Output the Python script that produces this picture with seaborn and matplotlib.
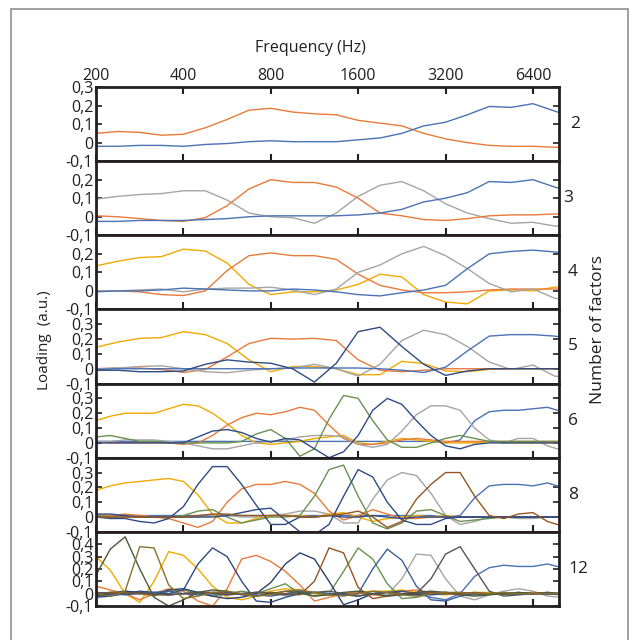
import matplotlib
matplotlib.use('Agg')
import matplotlib.pyplot as plt
from matplotlib.patches import Rectangle
from matplotlib.ticker import NullLocator
import pandas as pd
import seaborn as sns

# --- sampling grids (Hz) ---
freq_q = [200, 238, 283, 336, 400, 476, 566, 673, 800, 951, 1131, 1345, 1600,
          1903, 2263, 2691, 3200, 3805, 4525, 5382, 6400, 7611, 9051]
freq_s = [200, 224, 252, 283, 317, 356, 400, 449, 504, 566, 635, 713, 800, 898,
          1008, 1131, 1270, 1425, 1600, 1796, 2016, 2263, 2540, 2851, 3200,
          3592, 4032, 4525, 5080, 5702, 6400, 7184, 8063]

freq_ticks = [200, 400, 800, 1600, 3200, 6400]
factor_counts = ['2', '3', '4', '5', '6', '8', '12']

# --- 2 factors ---
f2_orange = [0.05, 0.06, 0.055, 0.04, 0.045, 0.08, 0.125, 0.175, 0.185, 0.165, 0.155, 0.15,
             0.12, 0.105, 0.09, 0.05, 0.02, 0.0, -0.015, -0.02, -0.02, -0.025, -0.025]
f2_blue = [-0.02, -0.02, -0.015, -0.015, -0.02, -0.01, -0.005, 0.005, 0.01, 0.005, 0.005, 0.005,
           0.015, 0.025, 0.05, 0.09, 0.11, 0.15, 0.195, 0.19, 0.21, 0.17, 0.13]

# --- 3 factors ---
f3_gray = [0.095, 0.11, 0.12, 0.125, 0.14, 0.14, 0.09, 0.02, 0.0, -0.005, -0.035, 0.02,
           0.11, 0.17, 0.19, 0.14, 0.07, 0.02, -0.01, -0.035, -0.03, -0.05, -0.05]
f3_orange = [0.005, 0.0, -0.01, -0.02, -0.025, -0.005, 0.06, 0.15, 0.2, 0.185, 0.185, 0.16,
             0.1, 0.02, 0.005, -0.015, -0.02, -0.01, 0.005, 0.01, 0.01, 0.015, 0.015]
f3_blue = [-0.025, -0.025, -0.02, -0.02, -0.02, -0.015, -0.01, 0.0, 0.005, 0.005, 0.005, 0.005,
           0.01, 0.02, 0.04, 0.08, 0.1, 0.13, 0.19, 0.185, 0.2, 0.16, 0.13]

# --- 4 factors ---
f4_gold = [0.135, 0.16, 0.18, 0.185, 0.225, 0.215, 0.15, 0.035, -0.02, -0.005, -0.005, 0.005,
           0.035, 0.09, 0.075, -0.02, -0.06, -0.07, 0.0, 0.005, 0.0, 0.02, 0.025]
f4_orange = [0.0, 0.0, -0.005, -0.02, -0.025, 0.0, 0.11, 0.19, 0.205, 0.19, 0.19, 0.17,
             0.09, 0.03, 0.005, -0.01, -0.01, -0.005, 0.005, 0.01, 0.01, 0.01, 0.01]
f4_gray = [0.0, 0.0, 0.005, 0.01, -0.005, 0.01, 0.015, 0.015, 0.02, 0.005, -0.02, 0.01,
           0.1, 0.14, 0.2, 0.24, 0.19, 0.12, 0.04, -0.005, 0.01, -0.04, -0.055]
f4_blue = [-0.005, 0.0, 0.0, 0.005, 0.015, 0.01, 0.005, 0.0, 0.0, 0.01, 0.005, -0.005,
           -0.02, -0.027, -0.01, 0.005, 0.03, 0.12, 0.2, 0.213, 0.22, 0.21, 0.2]

# --- 5 factors ---
f5_gold = [0.145, 0.18, 0.205, 0.21, 0.25, 0.23, 0.17, 0.06, -0.02, 0.015, 0.015, 0.0,
           -0.04, -0.04, 0.05, 0.035, -0.015, -0.02, -0.005, 0.0, 0.0, 0.0, 0.0]
f5_orange = [0.0, 0.005, 0.005, -0.005, -0.025, -0.005, 0.08, 0.17, 0.205, 0.2, 0.205, 0.19,
             0.06, -0.01, -0.02, -0.01, 0.0, 0.0, 0.0, 0.0, 0.0, 0.0, 0.0]
f5_navy = [-0.01, -0.01, -0.02, -0.02, -0.015, 0.03, 0.06, 0.045, 0.037, 0.0, -0.09, 0.037,
           0.25, 0.28, 0.15, 0.03, -0.045, -0.015, 0.0, 0.0, 0.0, 0.0, 0.0]
f5_gray = [0.0, 0.005, 0.015, 0.02, 0.0, -0.02, -0.027, -0.01, 0.0, 0.005, 0.03, 0.0,
           -0.05, 0.03, 0.19, 0.26, 0.23, 0.15, 0.045, -0.005, 0.025, -0.05, -0.06]
f5_blue = [-0.005, 0.0, 0.0, 0.0, 0.0, 0.0, 0.0, 0.0, 0.0, 0.005, 0.005, 0.005,
           0.005, 0.0, -0.01, -0.025, 0.01, 0.12, 0.22, 0.23, 0.23, 0.22, 0.2]

# --- 6 factors ---
f6_gold = [0.15, 0.18, 0.20, 0.20, 0.20, 0.23, 0.26, 0.25, 0.20, 0.13, 0.05, 0.00, -0.01,
           0.00, 0.01, 0.03, 0.04, 0.05, 0.00, -0.01, 0.01, 0.03, 0.02, 0.01, 0.00, 0.00,
           0.00, 0.01, 0.00, 0.00, 0.00, 0.00, 0.00]
f6_orange = [0.01, 0.00, 0.00, 0.00, 0.00, 0.00, -0.01, 0.00, 0.05, 0.12, 0.17, 0.20, 0.19,
             0.21, 0.24, 0.22, 0.12, 0.03, -0.01, -0.01, 0.00, 0.02, 0.03, 0.02, 0.01, 0.01,
             0.01, 0.01, 0.01, 0.01, 0.01, 0.01, 0.01]
f6_green = [0.04, 0.05, 0.03, 0.01, 0.01, 0.00, 0.00, 0.00, 0.00, 0.00, 0.01, 0.06, 0.09,
            0.03, -0.09, -0.04, 0.16, 0.32, 0.30, 0.15, 0.02, -0.03, -0.03, 0.00, 0.03, 0.05,
            0.03, 0.01, 0.01, 0.01, 0.01, 0.01, 0.01]
f6_navy = [0.00, 0.00, 0.00, 0.00, 0.00, 0.00, 0.00, 0.04, 0.08, 0.09, 0.07, 0.03, 0.005,
           0.03, 0.02, -0.04, -0.10, -0.06, 0.05, 0.22, 0.30, 0.26, 0.15, 0.05, -0.02, -0.04,
           -0.01, 0.00, 0.00, 0.00, 0.00, 0.00, 0.00]
f6_gray = [0.01, 0.01, 0.02, 0.02, 0.02, 0.01, 0.00, -0.02, -0.04, -0.04, -0.02, 0.00, 0.01,
           0.02, 0.04, 0.05, 0.05, 0.04, -0.01, -0.03, -0.01, 0.08, 0.19, 0.25, 0.25, 0.22,
           0.10, 0.02, 0.00, 0.03, 0.03, -0.02, -0.05]
f6_blue = [0.01, 0.01, 0.01, 0.01, 0.01, 0.01, 0.01, 0.01, 0.01, 0.01, 0.01, 0.01, 0.01,
           0.01, 0.01, 0.01, 0.01, 0.01, 0.01, 0.01, 0.01, 0.01, 0.01, 0.01, 0.00, 0.02,
           0.15, 0.21, 0.22, 0.22, 0.23, 0.24, 0.21]

# --- 8 factors ---
f8_gold = [0.18, 0.21, 0.23, 0.24, 0.25, 0.26, 0.24, 0.15, 0.02, -0.04, -0.04, -0.01, 0.01,
           0.01, 0.01, 0.00, 0.02, 0.03, 0.00, -0.03, -0.01, 0.00, 0.01, 0.00, 0.01, 0.00,
           0.00, 0.00, 0.00, 0.00, 0.00, 0.00, 0.00]
f8_navy1 = [0.00, -0.01, -0.01, -0.03, -0.04, -0.01, 0.07, 0.22, 0.34, 0.34, 0.22, 0.08, -0.05,
            -0.05, 0.00, 0.00, 0.01, 0.00, 0.00, 0.01, 0.00, -0.01, 0.00, 0.00, 0.00, 0.00,
            0.00, 0.00, 0.00, 0.00, 0.00, 0.00, 0.00]
f8_orange = [0.01, 0.01, 0.02, 0.01, 0.00, -0.01, -0.04, -0.07, -0.03, 0.10, 0.19, 0.22, 0.22,
             0.24, 0.22, 0.16, 0.04, -0.02, 0.01, 0.05, 0.02, -0.01, -0.01, 0.00, 0.00, 0.00,
             0.00, 0.00, 0.00, 0.00, 0.00, 0.00, 0.00]
f8_green = [0.01, 0.00, 0.00, 0.00, 0.00, 0.00, 0.01, 0.04, 0.05, 0.00, -0.04, -0.02, 0.00,
            0.00, 0.01, 0.14, 0.32, 0.35, 0.14, -0.04, -0.08, -0.04, 0.04, 0.05, 0.01, -0.03,
            -0.02, -0.01, 0.00, 0.00, 0.00, 0.00, 0.00]
f8_navy2 = [0.02, 0.02, 0.01, 0.00, 0.00, 0.00, 0.00, 0.00, 0.00, 0.01, 0.03, 0.05, 0.06,
            -0.02, -0.10, -0.12, -0.05, 0.14, 0.32, 0.27, 0.10, -0.02, -0.05, -0.05, -0.01,
            0.00, 0.00, 0.00, 0.00, 0.00, 0.00, 0.00, 0.00]
f8_gray = [0.00, 0.00, 0.01, 0.01, 0.00, 0.00, 0.00, 0.00, 0.01, 0.01, 0.00, 0.00, 0.01,
           0.02, 0.04, 0.04, 0.02, -0.04, -0.04, 0.12, 0.25, 0.30, 0.28, 0.16, 0.01, -0.05,
           -0.03, 0.00, 0.00, -0.01, -0.01, 0.00, 0.00]
f8_brown = [0.00, 0.00, 0.00, 0.00, 0.00, 0.00, 0.00, 0.01, 0.02, 0.02, 0.01, 0.01, 0.01,
            0.01, 0.00, 0.00, 0.01, 0.02, 0.04, 0.00, -0.07, -0.03, 0.12, 0.22, 0.30, 0.30,
            0.14, 0.01, -0.01, 0.02, 0.03, -0.03, -0.06]
f8_blue = [0.01, 0.01, 0.01, 0.01, 0.01, 0.01, 0.01, 0.01, 0.01, 0.01, 0.01, 0.01, 0.01,
           0.01, 0.01, 0.01, 0.01, 0.01, 0.01, 0.01, 0.01, 0.01, 0.01, 0.01, 0.00, 0.01,
           0.13, 0.21, 0.22, 0.22, 0.21, 0.23, 0.20]

# --- 12 factors ---
f12_olive = [0.15, 0.36, 0.46, 0.20, -0.03, -0.10, -0.05, 0.01, 0.03, 0.02, -0.01, -0.02, 0.00,
             0.02, 0.01, -0.02, -0.01, 0.01, 0.02, 0.00, -0.02, -0.01, 0.01, 0.02, 0.01, -0.01,
             -0.02, -0.01, 0.00, 0.01, 0.00, 0.00, -0.01]
f12_khaki = [0.00, -0.02, 0.02, 0.38, 0.37, 0.07, -0.04, -0.02, 0.01, 0.02, 0.00, -0.02, -0.01,
             0.02, 0.03, 0.01, -0.01, -0.02, 0.00, 0.02, 0.01, -0.01, -0.02, 0.00, 0.01, 0.01,
             0.00, 0.00, 0.01, 0.00, 0.00, 0.00, 0.00]
f12_gold = [0.30, 0.19, 0.00, -0.07, 0.10, 0.34, 0.31, 0.20, 0.06, -0.03, -0.05, -0.02, 0.02,
            0.04, 0.03, 0.00, -0.01, 0.00, 0.01, 0.02, 0.02, 0.03, 0.01, 0.00, -0.01, 0.00,
            0.01, 0.01, 0.00, 0.00, 0.01, 0.00, 0.00]
f12_navy1 = [-0.03, -0.02, 0.00, 0.02, 0.01, 0.00, 0.03, 0.24, 0.37, 0.30, 0.10, -0.06, -0.07,
             -0.03, 0.00, 0.01, 0.00, -0.01, -0.02, 0.00, 0.01, 0.02, 0.00, -0.01, 0.00, 0.01,
             0.00, 0.00, 0.00, 0.00, 0.00, 0.00, 0.00]
f12_orange = [0.06, 0.03, 0.00, -0.05, 0.00, 0.04, 0.02, -0.06, -0.10, 0.04, 0.28, 0.31, 0.26,
              0.18, 0.07, -0.06, -0.03, 0.00, 0.01, -0.01, -0.02, 0.02, 0.03, 0.01, 0.00, -0.01,
              0.00, 0.00, 0.00, 0.00, 0.01, 0.00, 0.00]
f12_navy2 = [-0.02, 0.00, 0.02, 0.01, -0.01, 0.03, 0.04, 0.01, -0.02, -0.04, -0.03, 0.00, 0.09,
             0.24, 0.33, 0.28, 0.10, -0.09, -0.05, 0.00, 0.01, 0.00, -0.01, 0.00, 0.01, 0.00,
             0.00, 0.00, 0.00, 0.00, 0.00, 0.00, 0.00]
f12_brown = [0.00, 0.01, 0.01, 0.00, -0.01, -0.01, 0.00, 0.01, 0.01, 0.00, 0.00, 0.01, 0.01,
             0.00, -0.01, 0.10, 0.37, 0.33, 0.05, -0.04, -0.02, 0.00, 0.01, 0.01, 0.00, 0.00,
             0.01, 0.00, 0.00, 0.00, 0.00, 0.01, 0.00]
f12_green = [0.00, 0.01, 0.02, 0.00, -0.02, 0.02, 0.03, 0.00, -0.02, 0.00, 0.02, 0.00, 0.04,
             0.08, 0.00, -0.02, 0.00, 0.18, 0.37, 0.28, 0.08, -0.04, -0.03, 0.00, 0.01, 0.00,
             -0.01, 0.00, 0.00, 0.00, 0.00, 0.00, 0.00]
f12_navy3 = [0.01, 0.00, -0.01, 0.00, 0.01, 0.02, 0.00, -0.01, 0.00, 0.01, 0.00, -0.01, -0.02,
             0.00, 0.02, 0.01, 0.00, -0.01, 0.00, 0.20, 0.36, 0.27, 0.06, -0.05, -0.06, -0.02,
             0.00, 0.00, 0.00, 0.01, 0.00, 0.00, 0.00]
f12_gray = [0.00, 0.01, 0.01, 0.00, 0.01, 0.00, 0.00, 0.01, 0.01, 0.00, 0.00, 0.01, 0.00,
            0.00, 0.01, 0.00, -0.01, 0.00, 0.00, 0.00, -0.01, 0.12, 0.32, 0.31, 0.12, -0.02,
            -0.05, -0.01, 0.02, 0.04, 0.02, -0.02, -0.03]
f12_dkgray = [0.01, 0.00, 0.00, 0.01, 0.00, -0.01, 0.00, 0.01, 0.00, -0.01, 0.00, 0.01, 0.00,
              -0.01, 0.00, 0.01, 0.02, 0.00, -0.02, 0.00, 0.01, 0.00, 0.00, 0.12, 0.32, 0.38,
              0.20, 0.02, -0.02, -0.01, 0.00, 0.01, 0.00]
f12_blue = [-0.02, -0.01, 0.00, 0.01, 0.00, -0.01, 0.00, 0.01, 0.00, -0.01, 0.00, 0.01, 0.00,
            -0.01, 0.00, 0.01, 0.00, 0.00, 0.01, 0.00, -0.01, 0.00, 0.00, -0.03, -0.05, 0.00,
            0.14, 0.21, 0.23, 0.22, 0.22, 0.24, 0.21]

BLUE, ORANGE, GRAY, GOLD = '#4a72b5', '#e97a3a', '#a5a5a5', '#f2a900'
NAVY, GREEN, BROWN, DKGRAY = '#2f4b85', '#6a9150', '#955522', '#555555'
OLIVE, KHAKI = '#4a5a3c', '#86712e'
INK = '#231f20'

panels = [
    (freq_q, [('o', f2_orange, ORANGE), ('b', f2_blue, BLUE)], 0.3),
    (freq_q, [('g', f3_gray, GRAY), ('o', f3_orange, ORANGE), ('b', f3_blue, BLUE)], 0.3),
    (freq_q, [('y', f4_gold, GOLD), ('o', f4_orange, ORANGE), ('g', f4_gray, GRAY),
              ('b', f4_blue, BLUE)], 0.3),
    (freq_q, [('y', f5_gold, GOLD), ('o', f5_orange, ORANGE), ('g', f5_gray, GRAY),
              ('b', f5_blue, BLUE), ('n', f5_navy, NAVY)], 0.4),
    (freq_s, [('b', f6_blue, BLUE), ('y', f6_gold, GOLD), ('o', f6_orange, ORANGE),
              ('g', f6_gray, GRAY), ('gr', f6_green, GREEN), ('n', f6_navy, NAVY)], 0.4),
    (freq_s, [('b', f8_blue, BLUE), ('g', f8_gray, GRAY), ('y', f8_gold, GOLD),
              ('o', f8_orange, ORANGE), ('gr', f8_green, GREEN), ('n1', f8_navy1, NAVY),
              ('n2', f8_navy2, NAVY), ('br', f8_brown, BROWN)], 0.4),
    (freq_s, [('b', f12_blue, BLUE), ('g', f12_gray, GRAY), ('y', f12_gold, GOLD),
              ('o', f12_orange, ORANGE), ('gr', f12_green, GREEN), ('n1', f12_navy1, NAVY),
              ('n2', f12_navy2, '#2a416e'), ('n3', f12_navy3, '#3d5d9c'),
              ('br', f12_brown, BROWN), ('dg', f12_dkgray, DKGRAY),
              ('ol', f12_olive, OLIVE), ('kh', f12_khaki, KHAKI)], 0.5),
]
label_x_px = [575, 568, 573, 573, 573, 573, 578]

sns.set_style('white')
plt.rcParams['font.family'] = ['Open Sans', 'DejaVu Sans']

W, H = 630, 640
fig = plt.figure(figsize=(6.3, 6.4), dpi=100)
ax_left, ax_right, ax_top, ax_bot = 96, 559, 87, 606
ph = (ax_bot - ax_top) / len(panels)


def fmt(v):
    if abs(v) < 1e-9:
        return '0'
    return f'{v:.1f}'.replace('.', ',')


for i, (freq, curves, ymax) in enumerate(panels):
    y0 = 1 - (ax_top + (i + 1) * ph) / H
    ax = fig.add_axes([ax_left / W, y0, (ax_right - ax_left) / W, ph / H])
    ax.set_xscale('log')

    rows = []
    for name, vals, _ in curves:
        for f, v in zip(freq, vals):
            rows.append((name, f, v))
    df = pd.DataFrame(rows, columns=['factor', 'freq', 'loading'])
    sns.lineplot(data=df, x='freq', y='loading', hue='factor',
                 hue_order=[c[0] for c in curves], palette=[c[2] for c in curves],
                 errorbar=None, legend=False, linewidth=1.0, ax=ax)

    ax.set_xlim(200, 7870)
    ax.set_ylim(-0.1, ymax)
    ax.set_xlabel('')
    ax.set_ylabel('')
    ax.set_xticks(freq_ticks)
    ax.xaxis.set_minor_locator(NullLocator())
    ax.set_xticklabels([str(t) for t in freq_ticks])
    ax.tick_params(axis='x', direction='in', length=5, width=1.5, color=INK,
                   top=(i == 0), bottom=True, labeltop=(i == 0), labelbottom=False,
                   labelsize=11.5, pad=2, labelcolor=INK)

    yt = [round(-0.1 + 0.1 * k, 1) for k in range(int(round((ymax + 0.1) / 0.1)) + 1)]
    ax.set_yticks(yt)
    ylabels = [fmt(v) for v in yt]
    if i > 0:
        ylabels[-1] = ''
    ax.set_yticklabels(ylabels)
    ax.tick_params(axis='y', direction='in', length=4, width=1.2, color=INK,
                   left=True, right=True, labelsize=11.5, pad=2, labelcolor=INK)

    for sp in ax.spines.values():
        sp.set_linewidth(2.0)
        sp.set_color(INK)

    ax.text((label_x_px[i] - ax_left) / (ax_right - ax_left), 0.5, factor_counts[i],
            transform=ax.transAxes, ha='center', va='center', fontsize=12.5, color=INK)

fig.text(310 / W, 1 - 48 / H, 'Frequency (Hz)', ha='center', va='center',
         fontsize=11.5, color=INK)
fig.text(45 / W, 1 - 340 / H, 'Loading  (a.u.)', ha='center', va='center',
         rotation=90, fontsize=11, color=INK)
fig.text(598 / W, 1 - 330 / H, 'Number of factors', ha='center', va='center',
         rotation=90, fontsize=12.5, color=INK)

fig.patches.append(Rectangle((11 / W, -0.05), (628 - 11) / W, 1 - 9 / H + 0.05,
                             transform=fig.transFigure, fill=False,
                             edgecolor='#8f8f8f', linewidth=1.2))

fig.savefig('out.png', dpi=100)
